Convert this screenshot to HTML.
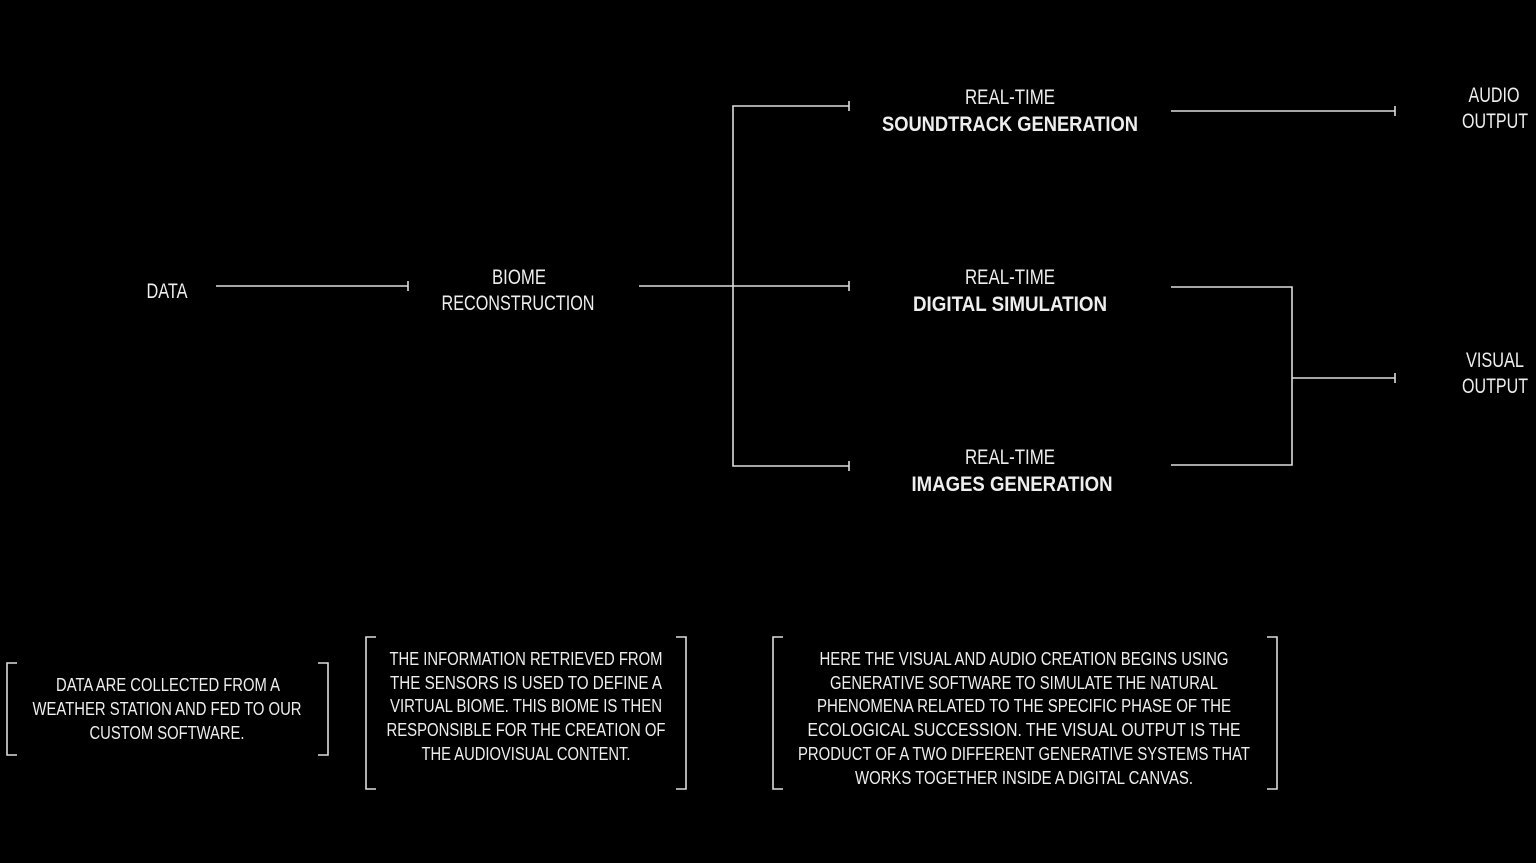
<!DOCTYPE html>
<html><head><meta charset="utf-8"><style>
html,body{margin:0;padding:0;background:#000;width:1536px;height:863px;overflow:hidden}
svg{display:block}
text{font-family:"Liberation Sans Narrow","Liberation Sans",sans-serif;fill:#eee;text-anchor:middle}
.m{font-size:21px}
.b{font-size:21px;font-weight:bold}
.s{font-size:18px}
</style></head><body>
<svg width="1536" height="863" viewBox="0 0 1536 863">
<g stroke="#ddd" stroke-width="1.6" fill="none">
<line x1="216" y1="286" x2="408" y2="286"/><line x1="408" y1="281" x2="408" y2="291"/>
<line x1="639" y1="286" x2="849" y2="286"/><line x1="849" y1="281" x2="849" y2="291"/>
<polyline points="849,106 733,106 733,466 849,466"/>
<line x1="849" y1="101" x2="849" y2="111"/><line x1="849" y1="461" x2="849" y2="471"/>
<line x1="1171" y1="111" x2="1395" y2="111"/><line x1="1395" y1="106" x2="1395" y2="116"/>
<polyline points="1171,287 1292,287 1292,465 1171,465"/>
<line x1="1292" y1="378" x2="1395" y2="378"/><line x1="1395" y1="373" x2="1395" y2="383"/>
<polyline points="17,663 7,663 7,755 17,755"/><polyline points="318,663 328,663 328,755 318,755"/>
<polyline points="376,637 366,637 366,789 376,789"/><polyline points="676,637 686,637 686,789 676,789"/>
<polyline points="783,637 773,637 773,789 783,789"/><polyline points="1267,637 1277,637 1277,789 1267,789"/>
</g>
<text class="m" x="167" y="298" textLength="41" lengthAdjust="spacingAndGlyphs">DATA</text>
<text class="m" x="519" y="284" textLength="54" lengthAdjust="spacingAndGlyphs">BIOME</text>
<text class="m" x="518" y="310" textLength="153" lengthAdjust="spacingAndGlyphs">RECONSTRUCTION</text>
<text class="m" x="1010" y="104" textLength="90" lengthAdjust="spacingAndGlyphs">REAL-TIME</text>
<text class="b" x="1010" y="131" textLength="256" lengthAdjust="spacingAndGlyphs">SOUNDTRACK GENERATION</text>
<text class="m" x="1010" y="284" textLength="90" lengthAdjust="spacingAndGlyphs">REAL-TIME</text>
<text class="b" x="1010" y="311" textLength="194" lengthAdjust="spacingAndGlyphs">DIGITAL SIMULATION</text>
<text class="m" x="1010" y="464" textLength="90" lengthAdjust="spacingAndGlyphs">REAL-TIME</text>
<text class="b" x="1012" y="491" textLength="201" lengthAdjust="spacingAndGlyphs">IMAGES GENERATION</text>
<text class="m" x="1494" y="102" textLength="51" lengthAdjust="spacingAndGlyphs">AUDIO</text>
<text class="m" x="1495" y="128" textLength="66" lengthAdjust="spacingAndGlyphs">OUTPUT</text>
<text class="m" x="1495" y="367" textLength="58" lengthAdjust="spacingAndGlyphs">VISUAL</text>
<text class="m" x="1495" y="393" textLength="66" lengthAdjust="spacingAndGlyphs">OUTPUT</text>
<text class="s" x="168" y="691" textLength="224" lengthAdjust="spacingAndGlyphs">DATA ARE COLLECTED FROM A</text>
<text class="s" x="167" y="715" textLength="269" lengthAdjust="spacingAndGlyphs">WEATHER STATION AND FED TO OUR</text>
<text class="s" x="167" y="739" textLength="155" lengthAdjust="spacingAndGlyphs">CUSTOM SOFTWARE.</text>
<text class="s" x="526" y="665" textLength="273" lengthAdjust="spacingAndGlyphs">THE INFORMATION RETRIEVED FROM</text>
<text class="s" x="526" y="689" textLength="272" lengthAdjust="spacingAndGlyphs">THE SENSORS IS USED TO DEFINE A</text>
<text class="s" x="526" y="712" textLength="272" lengthAdjust="spacingAndGlyphs">VIRTUAL BIOME. THIS BIOME IS THEN</text>
<text class="s" x="526" y="736" textLength="279" lengthAdjust="spacingAndGlyphs">RESPONSIBLE FOR THE CREATION OF</text>
<text class="s" x="526" y="760" textLength="209" lengthAdjust="spacingAndGlyphs">THE AUDIOVISUAL CONTENT.</text>
<text class="s" x="1024" y="665" textLength="409" lengthAdjust="spacingAndGlyphs">HERE THE VISUAL AND AUDIO CREATION BEGINS USING</text>
<text class="s" x="1024" y="689" textLength="388" lengthAdjust="spacingAndGlyphs">GENERATIVE SOFTWARE TO SIMULATE THE NATURAL</text>
<text class="s" x="1024" y="712" textLength="414" lengthAdjust="spacingAndGlyphs">PHENOMENA RELATED TO THE SPECIFIC PHASE OF THE</text>
<text class="s" x="1024" y="736" textLength="433" lengthAdjust="spacingAndGlyphs">ECOLOGICAL SUCCESSION. THE VISUAL OUTPUT IS THE</text>
<text class="s" x="1024" y="760" textLength="452" lengthAdjust="spacingAndGlyphs">PRODUCT OF A TWO DIFFERENT GENERATIVE SYSTEMS THAT</text>
<text class="s" x="1024" y="784" textLength="338" lengthAdjust="spacingAndGlyphs">WORKS TOGETHER INSIDE A DIGITAL CANVAS.</text>
</svg>
</body></html>
